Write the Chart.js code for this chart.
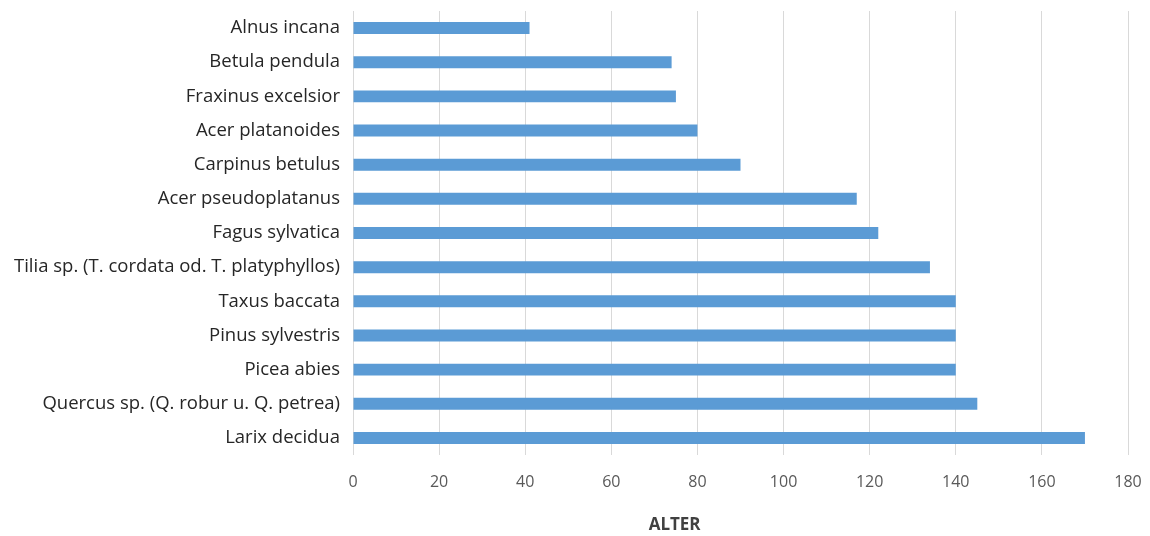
<!DOCTYPE html>
<html>
<head>
<meta charset="utf-8">
<script src="https://cdn.jsdelivr.net/npm/chart.js@4/dist/chart.umd.min.js"></script>
<style>
  html, body { margin: 0; padding: 0; background: #fff; }
  #wrap { width: 1150px; height: 536px; }
</style>
</head>
<body>
<div id="wrap"><canvas id="alter-chart"></canvas></div>
<script>
// Baumarten und Alter
var species = [
  'Alnus incana',
  'Betula pendula',
  'Fraxinus excelsior',
  'Acer platanoides',
  'Carpinus betulus',
  'Acer pseudoplatanus',
  'Fagus sylvatica',
  'Tilia sp. (T. cordata od. T. platyphyllos)',
  'Taxus baccata',
  'Pinus sylvestris',
  'Picea abies',
  'Quercus sp. (Q. robur u. Q. petrea)',
  'Larix decidua'
];
var ages = [41, 74, 75, 80, 90, 117, 122, 134, 140, 140, 140, 145, 170];
var xTicks = [0, 20, 40, 60, 80, 100, 120, 140, 160, 180];
var axisTitle = 'ALTER';

// axis title sits a bit left of the plot centre, like in the original
var axisTitlePlugin = {
  id: 'axisTitle',
  afterDraw: function(chart) {
    var c = chart.ctx, area = chart.chartArea;
    c.save();
    c.font = 'bold 17px "Open Sans"';
    c.fillStyle = '#404040';
    c.textAlign = 'center';
    c.textBaseline = 'middle';
    c.fillText(axisTitle, area.left + area.width * 0.415, chart.height - 11);
    c.restore();
  }
};

var ctx = document.getElementById('alter-chart').getContext('2d');
new Chart(ctx, {
  type: 'bar',
  data: {
    labels: species,
    datasets: [{
      label: 'Alter',
      data: ages,
      backgroundColor: '#5b9bd5',
      borderWidth: 0,
      barPercentage: 0.7,
      categoryPercentage: 0.5
    }]
  },
  plugins: [axisTitlePlugin],
  options: {
    indexAxis: 'y',
    responsive: true,
    maintainAspectRatio: false,
    animation: false,
    layout: {
      padding: {top: 11, right: 22, left: 0, bottom: 0}
    },
    plugins: {
      legend: {display: false},
      tooltip: {enabled: false}
    },
    scales: {
      x: {
        min: 0,
        max: 180,
        afterBuildTicks: function(scale) {
          scale.ticks = xTicks.map(function(v) { return {value: v}; });
        },
        afterFit: function(scale) {
          scale.height = 81;
          scale.paddingLeft = 0;
          scale.paddingRight = 0;
        },
        border: {display: false},
        grid: {
          color: '#d9d9d9',
          lineWidth: 1,
          drawTicks: false
        },
        ticks: {
          color: '#595959',
          padding: 18,
          font: {family: 'Open Sans', size: 16}
        }
      },
      y: {
        afterFit: function(scale) {
          scale.width = 353;
          scale.paddingTop = 0;
          scale.paddingBottom = 0;
        },
        border: {display: false},
        grid: {display: false, drawTicks: false},
        ticks: {
          color: '#262626',
          padding: 13,
          font: {family: 'Open Sans', size: 18.5}
        }
      }
    }
  }
});
</script>
</body>
</html>
